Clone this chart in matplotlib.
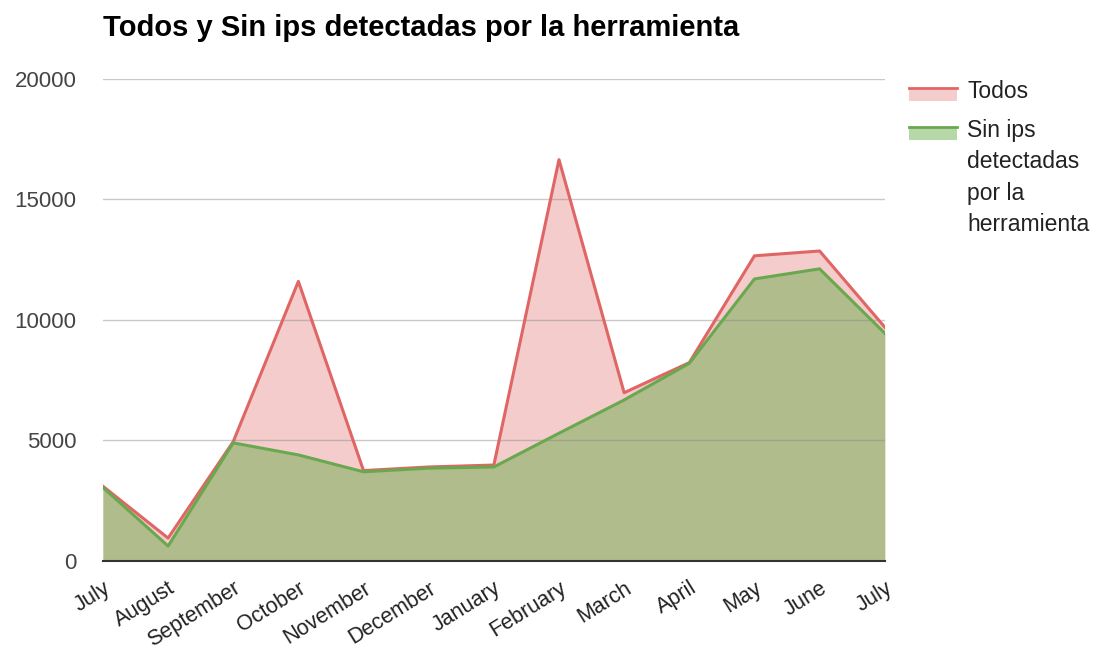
import numpy as np
import matplotlib
matplotlib.use('Agg')
import matplotlib.pyplot as plt
from matplotlib.patches import Rectangle
from matplotlib.lines import Line2D

plt.rcParams['font.family'] = ['Liberation Sans', 'DejaVu Sans']

months = ['July', 'August', 'September', 'October', 'November', 'December', 'January',
          'February', 'March', 'April', 'May', 'June', 'July']
todos = [3100, 950, 4950, 11600, 3750, 3900, 3980, 16650, 6980, 8230, 12660, 12860, 9700]
sin_ips = [3050, 620, 4900, 4400, 3700, 3850, 3900, 5300, 6680, 8200, 11700, 12120, 9450]
series_labels = ['Todos', 'Sin ips\ndetectadas\npor la\nherramienta']

red = '#e06666'
green = '#6aa84f'
pink = '#f4cccc'
olive = '#b0bc8c'

W, H = 1095, 652
fig = plt.figure(figsize=(W / 100, H / 100), dpi=100)
ax = fig.add_axes([0.094, 0.1396, 0.714, 0.7394])
x = np.arange(len(months))

ax.fill_between(x, 0, todos, color=pink, lw=0, zorder=1)
ax.fill_between(x, 0, sin_ips, color=olive, lw=0, zorder=2)
for yv in [5000, 10000, 15000, 20000]:
    ax.axhline(yv, color='#888888', lw=1, alpha=0.45, zorder=3)
ax.plot(x, todos, color=red, lw=2.2, zorder=4)
ax.plot(x, sin_ips, color=green, lw=2.2, zorder=5)

ax.set_xlim(0, len(months) - 1)
ax.set_ylim(0, 20000)
ax.set_yticks([0, 5000, 10000, 15000, 20000])
ax.set_yticklabels(['0', '5000', '10000', '15000', '20000'])
ax.set_xticks(x)
ax.set_xticklabels(months, rotation=32, ha='right', rotation_mode='anchor')
ax.tick_params(axis='x', length=0, labelsize=15.5, colors='#222222', pad=12)
ax.tick_params(axis='y', length=0, labelsize=16, colors='#444444', pad=19)
for s in ['top', 'right', 'left']:
    ax.spines[s].set_visible(False)
ax.spines['bottom'].set_color('#333333')
ax.spines['bottom'].set_linewidth(1.5)
ax.spines['bottom'].set_zorder(6)

fig.text(0.094, 1 - 28 / H, 'Todos y Sin ips detectadas por la herramienta',
         fontsize=21, fontweight='bold', va='center', ha='left')

# legend drawn by hand so the swatch sits next to the first line of text
def px(xp, yp):
    return xp / W, 1 - yp / H

for lab, lc, fc, ytop in [(series_labels[0], red, pink, 88),
                          (series_labels[1], green, '#b6d7a8', 127)]:
    x0, y0 = px(909, ytop + 13)
    fig.add_artist(Rectangle((x0, y0), 48 / W, 13 / H, transform=fig.transFigure,
                             facecolor=fc, edgecolor='none'))
    fig.add_artist(Line2D([909 / W, 957 / W], [1 - ytop / H] * 2, transform=fig.transFigure,
                          color=lc, lw=2))
    tx, ty = px(967, ytop - 8)
    fig.text(tx, ty, lab, fontsize=16.5, color='#222222', va='top', ha='left',
             linespacing=1.47)

fig.savefig('out.png', dpi=100)
